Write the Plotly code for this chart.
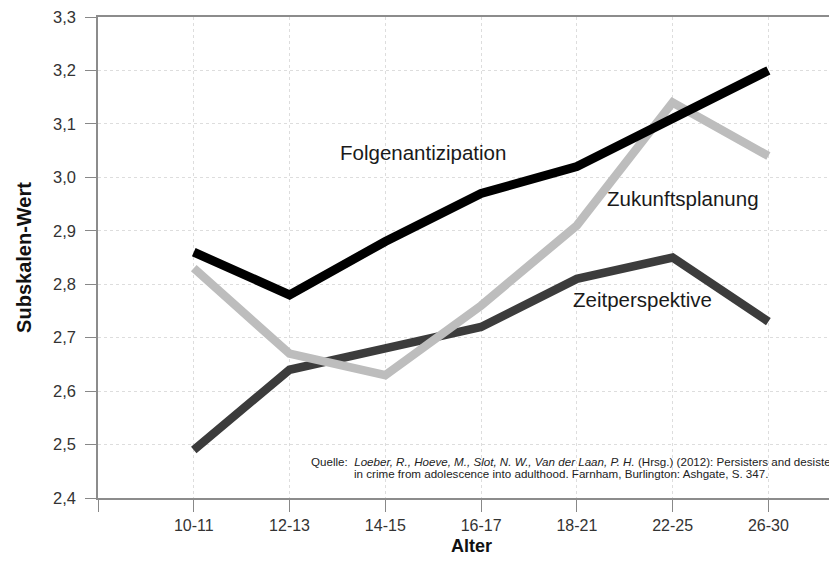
import plotly.graph_objects as go

ages = ["10-11", "12-13", "14-15", "16-17", "18-21", "22-25", "26-30"]
folgen = [2.86, 2.78, 2.88, 2.97, 3.02, 3.11, 3.20]
zukunft = [2.83, 2.67, 2.63, 2.76, 2.91, 3.14, 3.04]
zeit = [2.49, 2.64, 2.68, 2.72, 2.81, 2.85, 2.73]
y_ticks = [2.4, 2.5, 2.6, 2.7, 2.8, 2.9, 3.0, 3.1, 3.2, 3.3]

xpos = list(range(1, len(ages) + 1))

fig = go.Figure()
fig.add_trace(go.Scatter(x=xpos, y=zeit, mode="lines", name="Zeitperspektive",
                         line=dict(color="#3c3c3c", width=8.5)))
fig.add_trace(go.Scatter(x=xpos, y=zukunft, mode="lines", name="Zukunftsplanung",
                         line=dict(color="#bdbdbd", width=8.5)))
fig.add_trace(go.Scatter(x=xpos, y=folgen, mode="lines", name="Folgenantizipation",
                         line=dict(color="#000000", width=9)))

label_font = dict(family="Liberation Sans, Arial, sans-serif", size=20.5, color="#1a1a1a")
fig.add_annotation(x=3.39, y=3.046, xref="x", yref="y", text="Folgenantizipation",
                   showarrow=False, font=label_font)
fig.add_annotation(x=6.11, y=2.961, xref="x", yref="y", text="Zukunftsplanung",
                   showarrow=False, font=label_font)
fig.add_annotation(x=5.69, y=2.772, xref="x", yref="y", text="Zeitperspektive",
                   showarrow=False, font=label_font)

src_font = dict(family="Liberation Sans, Arial, sans-serif", size=11.6, color="#222222")
fig.add_annotation(x=2.20, y=2.468, xref="x", yref="y", xanchor="left",
                   text="Quelle:  <i>Loeber, R., Hoeve, M., Slot, N. W., Van der Laan, P. H.</i> (Hrsg.) (2012): Persisters and desisters",
                   showarrow=False, font=src_font)
fig.add_annotation(x=2.65, y=2.446, xref="x", yref="y", xanchor="left",
                   text="in crime from adolescence into adulthood. Farnham, Burlington: Ashgate, S. 347.",
                   showarrow=False, font=src_font)

fig.update_layout(
    width=837, height=561,
    margin=dict(l=90, r=0, t=4, b=71),
    paper_bgcolor="white", plot_bgcolor="white",
    showlegend=False,
    separators=", ",
    font=dict(family="Liberation Sans, Arial, sans-serif", color="#333333"),
)
fig.update_xaxes(
    range=[0, 7.80],
    tickvals=[0] + xpos, ticktext=[""] + ages,
    ticks="outside", ticklen=12, tickcolor="#888888", tickwidth=1,
    showline=True, linecolor="#8c8c8c", linewidth=1.8, mirror=True,
    showgrid=True, gridcolor="#dddddd", griddash="dot", gridwidth=1,
    tickfont=dict(size=16, color="#333333"),
    title=dict(text="<b>Alter</b>", font=dict(size=18, color="#111111"), standoff=6),
    zeroline=False,
)
fig.update_yaxes(
    range=[2.4, 3.3],
    tickvals=y_ticks, tickformat=".1f",
    ticks="outside", ticklen=11, tickcolor="#888888", tickwidth=1,
    ticklabelstandoff=6, ticklabeloverflow="allow",
    showline=True, linecolor="#8c8c8c", linewidth=1.5,
    showgrid=True, gridcolor="#dddddd", griddash="dot", gridwidth=1,
    tickfont=dict(size=16.5, color="#333333"),
    title=dict(text="<b>Subskalen-Wert</b>", font=dict(size=20, color="#111111"), standoff=16),
    zeroline=False,
)

fig.write_html("out.html")
